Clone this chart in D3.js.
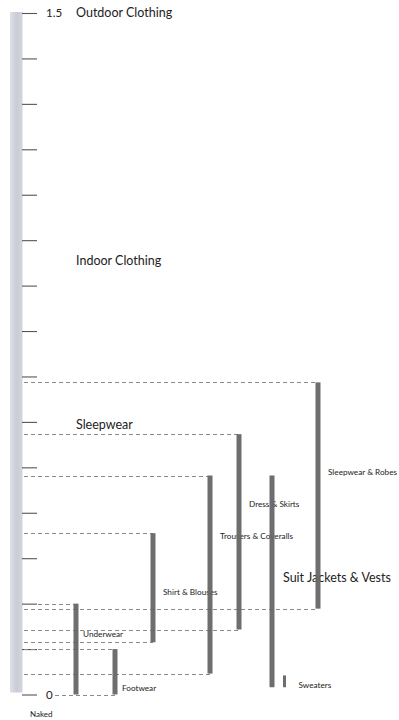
<!DOCTYPE html>
<html>
<head>
<meta charset="utf-8">
<script src="https://cdn.jsdelivr.net/npm/d3@7"></script>
<style>
  html, body { margin: 0; padding: 0; background: #fff; }
  svg { display: block; }
  text { font-family: Lato, "Open Sans", sans-serif; }
</style>
</head>
<body>
<svg id="chart" width="399" height="720"></svg>
<script>
// ---------- data (clo values) ----------
const garments   = ["Underwear", "Footwear", "Shirt & Blouses", "Trousers & Coveralls", "Dress & Skirts", "Suit Jackets & Vests", "Sweaters", "Sleepwear & Robes"];
const cloLow     = [0.00, 0.00, 0.115, 0.046, 0.143, 0.016, 0.016, 0.189];
const cloHigh    = [0.20, 0.10, 0.355, 0.482, 0.573, 0.482, 0.042, 0.687];
const guideLines = [true, true, true, true, true, false, false, true];

const levels      = ["Outdoor Clothing", "Indoor Clothing", "Sleepwear", "Suit Jackets & Vests"];
const levelValues = [1.5, 0.955, 0.595, 0.257];

const tickValues = d3.range(0, 16).map(i => +(i * 0.1).toFixed(1));
const tickLabels = { 0: "0", 1.5: "1.5" };
const baseLabel  = "Naked";

// ---------- layout ----------
const svg = d3.select("#chart");
const y = d3.scaleLinear().domain([0, 1.5]).range([694.5, 13]);
const x = d3.scaleOrdinal().domain(garments)
  .range([76, 115, 153, 210, 239, 272, 284.5, 318]);
const barW = d3.scaleOrdinal().domain(garments).range([5, 5, 5, 5, 5, 5, 3, 5]);

// label placement (style): dx from bar, value for vertical placement
const labelPos = {
  "Underwear": [7, 0.132],
  "Footwear": [7, 0.014],
  "Shirt & Blouses": [10, 0.226],
  "Trousers & Coveralls": [10, 0.348],
  "Dress & Skirts": [10, 0.418],
  "Sweaters": [14, 0.02],
  "Sleepwear & Robes": [10, 0.489]
};

// axis bar (textured)
const defs = svg.append("defs");
const grad = defs.append("linearGradient").attr("id", "axg").attr("x1", 0).attr("x2", 1);
grad.append("stop").attr("offset", 0).attr("stop-color", "#dfe1e6");
grad.append("stop").attr("offset", 0.5).attr("stop-color", "#c9cdd6");
grad.append("stop").attr("offset", 1).attr("stop-color", "#d2d5dd");
svg.append("rect")
  .attr("x", 10).attr("y", y(1.5) - 1)
  .attr("width", 12.5).attr("height", y(0) - y(1.5) - 1)
  .attr("fill", "url(#axg)");

// axis ticks
const axis = d3.axisRight(y)
  .tickValues(tickValues)
  .tickSize(15)
  .tickPadding(9)
  .tickFormat(d => tickLabels[d] || "");
const ag = svg.append("g").attr("transform", "translate(22,0)").call(axis);
ag.select(".domain").remove();
ag.selectAll(".tick line").attr("stroke", "#555").attr("stroke-width", 1.1);
ag.selectAll(".tick text")
  .attr("fill", "#222").attr("font-size", 11.5)
  .style("font-family", "Lato, 'Open Sans', sans-serif");

// "Naked"
svg.append("text").attr("x", 30).attr("y", y(0) + 22)
  .attr("font-size", 8).attr("fill", "#222").text(baseLabel);

// dashed guide lines
const guides = [];
garments.forEach((g, i) => {
  if (!guideLines[i]) return;
  [cloLow[i], cloHigh[i]].forEach(v => guides.push({ g, v }));
});
svg.append("g").selectAll("line").data(guides).join("line")
  .attr("x1", d => d.v === 0 ? 55 : 24)
  .attr("x2", d => x(d.g))
  .attr("y1", d => Math.round(y(d.v)) + 0.5)
  .attr("y2", d => Math.round(y(d.v)) + 0.5)
  .attr("stroke", "#8a8a8a").attr("stroke-width", 1)
  .attr("stroke-dasharray", "4,3");

// level labels
svg.append("g").selectAll("text").data(levels).join("text")
  .attr("x", (d, i) => i === 3 ? 283 : 76)
  .attr("y", (d, i) => y(levelValues[i]))
  .attr("dy", "0.35em")
  .attr("font-size", 12.5)
  .attr("fill", "#222")
  .text(d => d);

// garment labels
svg.append("g").selectAll("text")
  .data(garments.filter(g => labelPos[g])).join("text")
  .attr("x", d => x(d) + labelPos[d][0])
  .attr("y", d => y(labelPos[d][1]))
  .attr("dy", "0.35em")
  .attr("font-size", 8.2)
  .attr("fill", "#222")
  .text(d => d);

// bars
svg.append("g").selectAll("rect").data(garments).join("rect")
  .attr("x", d => x(d) - barW(d) / 2)
  .attr("width", d => barW(d))
  .attr("y", (d, i) => y(cloHigh[i]))
  .attr("height", (d, i) => y(cloLow[i]) - y(cloHigh[i]))
  .attr("fill", "#666")
  .attr("fill-opacity", 0.95);
</script>
</body>
</html>
